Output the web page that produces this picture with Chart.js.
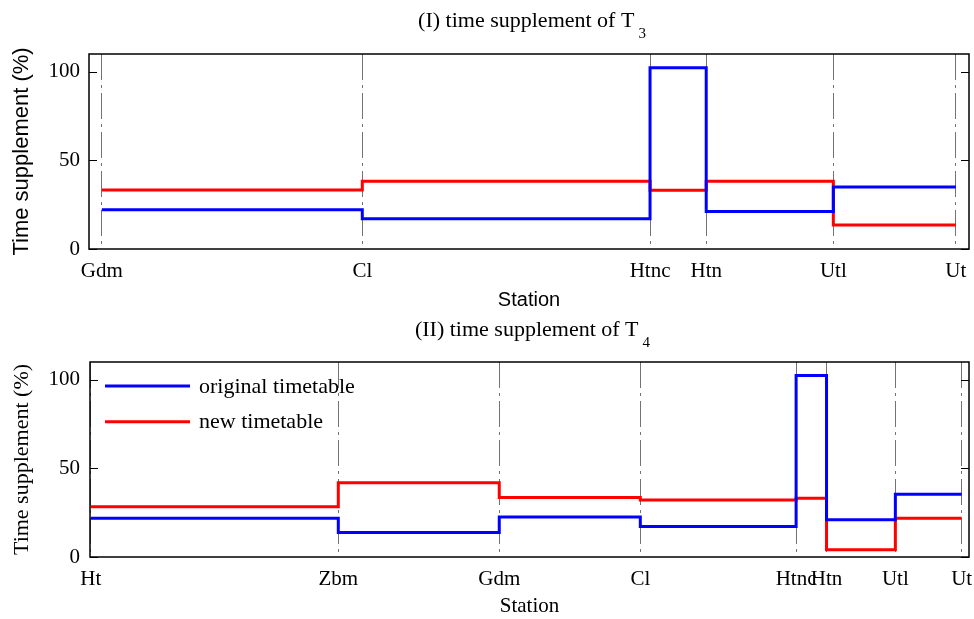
<!DOCTYPE html>
<html><head><meta charset="utf-8">
<script src="https://cdn.jsdelivr.net/npm/chart.js@4.4.1/dist/chart.umd.min.js"></script>
<style>
html,body{margin:0;padding:0;background:#fff;}
#wrap{position:relative;width:974px;height:619px;}
canvas{position:absolute;left:0;}
#c1{top:0}
#c2{top:310px}
</style></head><body>
<div id="wrap">
<canvas id="c1" width="974" height="310"></canvas>
<canvas id="c2" width="974" height="309"></canvas>
</div>
<script>
// Panel I : train T3
const stations1 = ['Gdm','Cl','Htnc','Htn','Utl','Ut'];
const stationKm1 = [0, 7.93, 16.69, 18.40, 22.27, 26.00];
const original1 = [22.2, 17.1, 102.2, 21.1, 35.0];
const new1 = [33.3, 38.2, 33.1, 38.2, 13.5];
const xRange1 = [-0.39, 26.40];

// Panel II : train T4
const stations2 = ['Ht','Zbm','Gdm','Cl','Htnc','Htn','Utl','Ut'];
const stationKm2 = [0, 13.92, 22.97, 30.90, 39.66, 41.37, 45.24, 48.97];
const original2 = [21.9, 13.8, 22.6, 17.2, 102.4, 21.0, 35.4];
const new2 = [28.4, 41.9, 33.5, 32.2, 33.1, 4.1, 21.9];
const xRange2 = [-0.04, 49.38];

const yTicks = [0, 50, 100];
const yRange = [0, 110];
const seriesNames = ['original timetable', 'new timetable'];
const titles = [['(I) time supplement of T', '3'], ['(II) time supplement of T', '4']];
const axisTitleX = 'Station';
const axisTitleY = 'Time supplement (%)';

Chart.defaults.font.family = 'Liberation Serif';
Chart.defaults.color = '#000';

function steps(km, vals) {
  return km.map((x, i) => ({x: x, y: vals[Math.min(i, vals.length - 1)]}));
}

const framePlugin = {
  id: 'frame',
  afterDatasetsDraw(chart, args, opts) {
    if (!opts.legend) return;
    const ctx = chart.ctx, a = chart.chartArea;
    ctx.save();
    ctx.font = '22px "Liberation Serif"';
    ctx.textBaseline = 'middle';
    ctx.textAlign = 'left';
    ctx.fillStyle = '#000';
    chart.data.datasets.forEach((ds, i) => {
      const y = a.top + 24 + i * 35.7;
      ctx.strokeStyle = ds.borderColor;
      ctx.lineWidth = ds.borderWidth;
      ctx.beginPath();
      ctx.moveTo(a.left + 15, y);
      ctx.lineTo(a.left + 100, y);
      ctx.stroke();
      ctx.fillText(ds.label, a.left + 109, y + 1);
    });
    ctx.restore();
  },
  afterDraw(chart, args, opts) {
    const ctx = chart.ctx, a = chart.chartArea, y = chart.scales.y;
    ctx.save();
    ctx.strokeStyle = '#000';
    ctx.lineWidth = 1.5;
    ctx.strokeRect(a.left, a.top, a.right - a.left, a.bottom - a.top);
    ctx.lineWidth = 1;
    y.ticks.forEach(t => {
      const py = Math.round(y.getPixelForValue(t.value)) + 0.5;
      ctx.beginPath();
      ctx.moveTo(a.left, py); ctx.lineTo(a.left + 8, py);
      ctx.moveTo(a.right, py); ctx.lineTo(a.right - 8, py);
      ctx.stroke();
    });
    const main = opts.text[0], sub = opts.text[1];
    ctx.fillStyle = '#000';
    ctx.textBaseline = 'alphabetic';
    ctx.textAlign = 'left';
    ctx.font = '22px "Liberation Serif"';
    const wMain = ctx.measureText(main).width;
    ctx.font = '15px "Liberation Serif"';
    const wSub = ctx.measureText(sub).width;
    const x0 = (a.left + a.right) / 2 + 3 - (wMain + 4 + wSub) / 2;
    ctx.font = '22px "Liberation Serif"';
    ctx.fillText(main, x0, opts.baseline);
    ctx.font = '15px "Liberation Serif"';
    ctx.fillText(sub, x0 + wMain + 4, opts.baseline + 11);
    ctx.restore();
  }
};

function makeChart(id, km, names, orig, neu, xr, opt) {
  return new Chart(document.getElementById(id), {
    type: 'line',
    data: {
      datasets: [
        {label: seriesNames[0], data: steps(km, orig), borderColor: '#0000ff', backgroundColor: '#0000ff',
         borderWidth: 3, pointRadius: 0, stepped: true, fill: false},
        {label: seriesNames[1], data: steps(km, neu), borderColor: '#ff0000', backgroundColor: '#ff0000',
         borderWidth: 3, pointRadius: 0, stepped: true, fill: false}
      ]
    },
    options: {
      responsive: false, animation: false, events: [],
      layout: {padding: {top: opt.top, right: 5, left: 0, bottom: 0}},
      scales: {
        x: {
          type: 'linear', min: xr[0], max: xr[1], bounds: 'data', z: 1,
          afterBuildTicks: s => { s.ticks = km.map(v => ({value: v})); },
          afterFit: s => { s.height = opt.h - opt.bottom; s.paddingLeft = 0; s.paddingRight = 0; },
          ticks: {autoSkip: false, maxRotation: 0, minRotation: 0, padding: 10, color: '#000',
                  font: {family: 'Liberation Serif', size: 21}, callback: (v, i) => names[i]},
          grid: {color: '#737373', lineWidth: 1, drawTicks: false},
          border: {display: false, dash: [26, 5, 3, 5]},
          title: {display: true, text: axisTitleX, color: '#000', font: opt.xTitleFont,
                  padding: {top: 0, bottom: opt.xTitlePad}}
        },
        y: {
          min: yRange[0], max: yRange[1], bounds: 'data',
          afterBuildTicks: s => { s.ticks = yTicks.map(v => ({value: v})); },
          afterFit: s => { s.width = opt.left; s.paddingTop = 0; s.paddingBottom = 0; },
          ticks: {padding: opt.yPad, color: '#000', font: {family: 'Liberation Serif', size: 21}},
          grid: {display: false, drawTicks: false},
          border: {display: false},
          title: {display: true, text: axisTitleY, color: '#000', font: opt.yTitleFont, padding: {top: 9, bottom: 0}}
        }
      },
      plugins: {
        legend: {display: false},
        tooltip: {enabled: false},
        frame: {text: opt.title, baseline: opt.baseline, legend: opt.legend}
      }
    },
    plugins: [framePlugin]
  });
}

makeChart('c1', stationKm1, stations1, original1, new1, xRange1, {
  top: 54, bottom: 249, h: 310, left: 89, yPad: 9,
  xTitleFont: {family: 'Liberation Sans', size: 20, lineHeight: 1}, xTitlePad: 0,
  yTitleFont: {family: 'Liberation Sans', size: 22},
  legend: false, title: titles[0], baseline: 27
});
makeChart('c2', stationKm2, stations2, original2, new2, xRange2, {
  top: 52, bottom: 247, h: 309, left: 90, yPad: 10,
  xTitleFont: {family: 'Liberation Serif', size: 21, lineHeight: 1}, xTitlePad: 2.5,
  yTitleFont: {family: 'Liberation Serif', size: 22},
  legend: true, title: titles[1], baseline: 26
});
</script>
</body></html>
